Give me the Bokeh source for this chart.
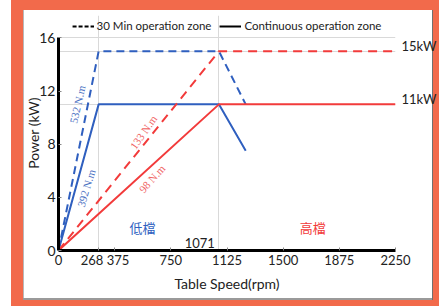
import math
from bokeh.plotting import figure
from bokeh.models import (Range1d, FixedTicker, Legend, LegendItem, Label, LinearAxis,
                          ColumnDataSource)
from bokeh.core.properties import value
from bokeh.embed import file_html
from bokeh.resources import INLINE

# ---- data ----
low_speed = [0, 268, 1071, 1250]
low_cont_kw = [0, 11, 11, 7.5]
low_30min_kw = [0, 15, 15, 11]
high_speed = [0, 1071, 2250]
high_cont_kw = [0, 11, 11]
high_30min_kw = [0, 15, 15]
x_ticks = [0, 268, 375, 750, 1125, 1500, 1875, 2250]
y_ticks = [0, 4, 8, 12, 16]
x_max = 2250
y_max = 16
grid_speed = [268, 1071]
power_levels = [15, 11]
torque_labels = ["532 N.m", "392 N.m", "133 N.m", "98 N.m"]
torque_x = [127, 185, 567, 624]
torque_y = [11.0, 4.7, 8.9, 5.4]
torque_angle_deg = [77, 73, 55, 48]
gear_labels = ["低檔", "高檔"]
gear_x = [560, 1698]
gear_y = [1.75, 1.75]
legend_labels = ["30 Min operation zone", "Continuous operation zone"]

BLUE = "#2F5FBF"
BLUE_T = "#4A70C2"
RED = "#F23B3B"
RED_T = "#F06464"
ORANGE = "#F26A4B"
FONT = "Lato"

# frame extends a little above y_max so the legend can sit inside it
Y_TOP = 17.69
LABEL_SHIFT = 0.376

shadow = ", ".join([
    "inset 11px 0 0 0 white",
    f"inset 23px 0 0 0 {ORANGE}",
    f"inset 0 10px 0 0 {ORANGE}",
    f"inset -6px 0 0 0 {ORANGE}",
    f"inset 0 -6px 0 0 {ORANGE}",
    "inset -7px 0 0 0 #707070",
    "inset 0 -8px 0 0 #9a9a9a",
    "inset 24px 0 0 0 #b8b8b8",
])

p = figure(width=439, height=306, x_range=Range1d(0, x_max), y_range=Range1d(0, Y_TOP),
           output_backend="svg", toolbar_location=None,
           min_border_left=58, min_border_right=43, min_border_top=15, min_border_bottom=56,
           border_fill_color="white", border_fill_alpha=0,
           background_fill_color="white", outline_line_color=None,
           styles={"background-color": "white", "box-shadow": shadow})

# grid (incl. frame border lines at the top and right)
p.xgrid.ticker = FixedTicker(ticks=grid_speed + [x_max])
p.ygrid.ticker = FixedTicker(ticks=power_levels + [y_max])
p.xgrid.bounds = (0, y_max)
for g in (p.xgrid, p.ygrid):
    g.grid_line_color = "#d9d9d9"
    g.grid_line_width = 1

# axes
p.xaxis.ticker = FixedTicker(ticks=x_ticks)
p.yaxis.ticker = FixedTicker(ticks=y_ticks)
p.yaxis.bounds = (0, y_max)
p.xaxis.major_label_overrides = {268: "268\u00a0\u00a0\u00a0\u00a0", 375: "\u00a0\u00a0375"}
p.xaxis.axis_label = "Table Speed(rpm)"
p.yaxis.axis_label = "Power (kW)"
for ax in (p.xaxis, p.yaxis):
    ax.axis_line_color = "black"
    ax.axis_line_width = 3
    ax.major_tick_in = 3
    ax.major_tick_out = 0
    ax.major_tick_line_color = "#888888"
    ax.minor_tick_line_color = None
    ax.major_label_text_font = FONT
    ax.major_label_text_color = "#222222"
    ax.axis_label_text_font = FONT
    ax.axis_label_text_font_style = "normal"
    ax.axis_label_text_color = "#222222"
p.xaxis.major_label_text_font_size = "13px"
p.yaxis.major_label_text_font_size = "14px"
p.xaxis.axis_label_text_font_size = "14px"
p.yaxis.axis_label_text_font_size = "14px"
p.xaxis.major_label_standoff = 1
p.yaxis.major_label_standoff = 3
p.xaxis.axis_label_standoff = 4
p.yaxis.axis_label_standoff = -6

# right side power labels as an axis
p.extra_y_ranges = {"kw": Range1d(-LABEL_SHIFT, Y_TOP - LABEL_SHIFT)}
rax = LinearAxis(y_range_name="kw", ticker=FixedTicker(ticks=power_levels),
                 major_label_overrides={lv: f"{lv}kW" for lv in power_levels},
                 axis_line_color=None, major_tick_line_color=None, minor_tick_line_color=None,
                 major_tick_in=0, major_tick_out=0, major_label_standoff=6,
                 major_label_text_font=FONT, major_label_text_font_size="13px",
                 major_label_text_color="#222222")
p.add_layout(rax, "right")

# lines
p.line(low_speed, low_30min_kw, line_color=BLUE, line_width=2, line_dash="8 5")
p.line(low_speed, low_cont_kw, line_color=BLUE, line_width=2)
p.line(high_speed, high_30min_kw, line_color=RED, line_width=2, line_dash="9 6")
p.line(high_speed, high_cont_kw, line_color=RED, line_width=2)

# torque labels
src = ColumnDataSource(dict(x=torque_x, y=torque_y, text=torque_labels,
                            angle=[math.radians(a) for a in torque_angle_deg],
                            color=[BLUE_T, BLUE_T, RED_T, RED_T]))
p.text(x="x", y="y", text="text", angle="angle", text_color="color", source=src,
       text_font=value("Liberation Serif"), text_font_size="11px",
       text_align="center", text_baseline="middle")

# gear labels
p.text(x=gear_x, y=gear_y, text=gear_labels, text_color=[BLUE, RED],
       text_font=value("Noto Sans CJK TC"), text_font_size="13px",
       text_align="center", text_baseline="middle")

# 1071 label
p.add_layout(Label(x=grid_speed[1], y=0, x_offset=-4, y_offset=3, text=str(grid_speed[1]),
                   text_align="right", text_baseline="bottom", text_font=FONT,
                   text_font_size="13px", text_color="#222222"))

# legend (key renderers hold a single origin point, so they draw nothing in the plot)
r1 = p.line(x=low_speed[:1], y=low_cont_kw[:1], line_color="black", line_width=2, line_dash="4 2")
r2 = p.line(x=low_speed[:1], y=low_cont_kw[:1], line_color="black", line_width=2)
legend = Legend(items=[LegendItem(label=legend_labels[0], renderers=[r1]),
                       LegendItem(label=legend_labels[1], renderers=[r2])],
                orientation="horizontal", location="top_center",
                border_line_color=None, background_fill_alpha=0,
                label_text_font=FONT, label_text_font_size="11.5px", label_text_color="#222222",
                glyph_width=22, glyph_height=12, label_height=12,
                padding=0, margin=4, spacing=8, label_standoff=3)
p.add_layout(legend)

open("out.html", "w").write(file_html(p, INLINE))
